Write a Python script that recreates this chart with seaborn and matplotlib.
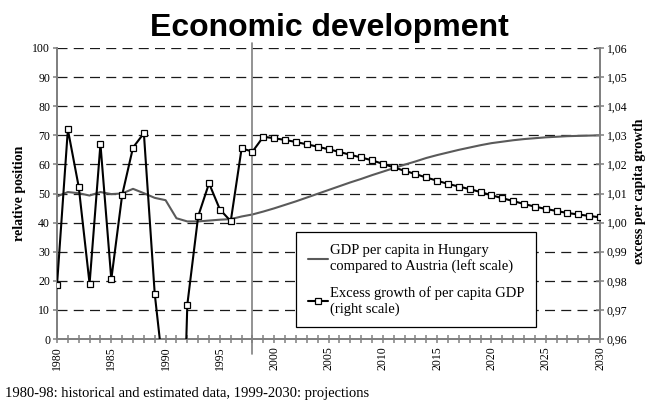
import numpy as np
import pandas as pd
import matplotlib
matplotlib.use("Agg")
import matplotlib.pyplot as plt
from matplotlib.ticker import MultipleLocator, FuncFormatter
from matplotlib.lines import Line2D
import seaborn as sns

# ---------------- data ----------------
years = list(range(1980, 2031))
gdp_ratio = [49.0, 50.5, 50.1, 49.3, 50.5, 49.8, 50.0, 51.6, 50.1, 48.5,
             47.7, 41.5, 40.4, 40.4, 40.7, 41.0, 41.2, 42.1, 42.8,
             43.8, 44.9, 46.1, 47.3, 48.6, 49.9, 51.2, 52.5, 53.8, 55.0,
             56.3, 57.5, 58.7, 59.9, 61.0, 62.2, 63.2, 64.1, 65.0, 65.8,
             66.6, 67.3, 67.8, 68.3, 68.7, 69.0, 69.3, 69.5, 69.7, 69.8,
             69.9, 70.0]
excess_growth = [0.9785, 1.0320, 1.0123, 0.9790, 1.0270, 0.9805, 1.0095,
                 1.0258, 1.0307, 0.9755, 0.9420, 0.8450, 0.9718, 1.0022,
                 1.0135, 1.0045, 1.0005, 1.0255, 1.0244,
                 1.0295, 1.0290, 1.0284, 1.0277, 1.0269, 1.0261, 1.0252,
                 1.0243, 1.0233, 1.0224, 1.0214, 1.0202, 1.0190, 1.0178,
                 1.0167, 1.0155, 1.0144, 1.0133, 1.0124, 1.0115, 1.0105,
                 1.0094, 1.0084, 1.0074, 1.0064, 1.0055, 1.0047, 1.0040,
                 1.0033, 1.0028, 1.0023, 1.0018]
left_ticks = list(range(0, 101, 10))
right_ticks = [0.96, 0.97, 0.98, 0.99, 1.00, 1.01, 1.02, 1.03, 1.04, 1.05, 1.06]
year_ticks = list(range(1980, 2031, 5))
split_year = 1998

title = "Economic development"
label_gdp = "GDP per capita in Hungary\ncompared to Austria (left scale)"
label_exc = "Excess growth of per capita GDP\n(right scale)"
left_label = "relative position"
right_label = "excess per capita growth"
footer = "1980-98: historical and estimated data, 1999-2030: projections"

df = pd.DataFrame({"year": years, "gdp": gdp_ratio, "excess": excess_growth})

# ---------------- style ----------------
sns.set_style("white")
plt.rcParams["font.family"] = ["Liberation Serif", "DejaVu Serif"]
plt.rcParams["axes.unicode_minus"] = False
plt.rcParams["text.color"] = "black"
plt.rcParams["xtick.labelcolor"] = "black"
plt.rcParams["ytick.labelcolor"] = "black"

fig = plt.figure(figsize=(6.5, 4.05), dpi=100)
ax = fig.add_axes([57 / 650, 1 - 339 / 405, 543 / 650, 291 / 405])
ax2 = ax.twinx()

spine_c = "#808080"
gdp_c = "#5a5a5a"

# grid (dashed horizontal)
for v in left_ticks[1:]:
    ax.axhline(v, color="#1a1a1a", lw=0.9, ls=(0, (8, 5)), zorder=0.5)

sns.lineplot(data=df, x="year", y="gdp", ax=ax, color=gdp_c, lw=1.5,
             zorder=2, legend=False)
sns.lineplot(data=df, x="year", y="excess", ax=ax2, color="black", lw=1.5,
             marker="s", markersize=3.8, markerfacecolor="white",
             markeredgecolor="black", markeredgewidth=0.9, zorder=3,
             legend=False)

ax.set_xlim(1980, 2030)
ax.set_ylim(0, 100)
ax2.set_ylim(0.96, 1.06)

ax.set_yticks(left_ticks)
ax2.set_yticks(right_ticks)
ax2.yaxis.set_major_formatter(FuncFormatter(lambda v, p: f"{v:.2f}".replace(".", ",")))
ax.set_xticks(year_ticks)
ax.set_xticklabels([str(y) for y in year_ticks], rotation=90)
ax.xaxis.set_minor_locator(MultipleLocator(1))

ax.set_xlabel("")
ax.set_ylabel("")
ax2.set_ylabel("")

for a in (ax, ax2):
    a.spines["top"].set_visible(False)
    for s in ("left", "right", "bottom"):
        a.spines[s].set_color(spine_c)
        a.spines[s].set_linewidth(1.3)

ax.tick_params(axis="x", which="both", direction="inout", length=6,
               width=1.1, color=spine_c, labelsize=8.5, pad=2, bottom=True,
               labelcolor="black")
ax.tick_params(axis="y", direction="out", length=3, width=1.1, color=spine_c,
               labelsize=8.5, pad=2, left=True, labelcolor="black")
ax2.tick_params(axis="y", direction="inout", length=6, width=1.1,
                color=spine_c, labelsize=8.5, pad=2, right=True,
                labelcolor="black")

# vertical separator at 1998
ax.axvline(split_year, ymin=-0.052, ymax=1.017, color=spine_c, lw=1.2,
           clip_on=False, zorder=4)

# legend
handles = [Line2D([], [], color=gdp_c, lw=1.5),
           Line2D([], [], color="black", lw=1.5, marker="s", markersize=3.8,
                  markerfacecolor="white", markeredgecolor="black",
                  markeredgewidth=0.9)]
leg = ax2.legend(handles, [label_gdp, label_exc], loc="upper left",
                 bbox_to_anchor=(0.44, 0.366), borderaxespad=0,
                 fontsize=10.5, frameon=True, fancybox=False,
                 edgecolor="black", framealpha=1, handlelength=1.4,
                 handletextpad=0.15, labelspacing=0.9, borderpad=0.8)
leg.get_frame().set_linewidth(0.9)
for t in leg.get_texts():
    t.set_color("black")

# texts
fig.text(0.506, 1 - 36 / 405, title, ha="center", va="baseline",
         fontsize=23, fontweight="bold", color="black",
         family=["Liberation Sans", "DejaVu Sans"])
fig.text(20 / 650, 1 - 193 / 405, left_label, rotation=90, ha="center",
         va="center", fontsize=10, fontweight="bold", color="black")
fig.text(640 / 650, 1 - 191 / 405, right_label, rotation=90, ha="center",
         va="center", fontsize=10, fontweight="bold", color="black")
fig.text(5 / 650, 1 - 397 / 405, footer, ha="left", va="baseline",
         fontsize=10.5, color="black")

fig.savefig("out.png", dpi=100)
